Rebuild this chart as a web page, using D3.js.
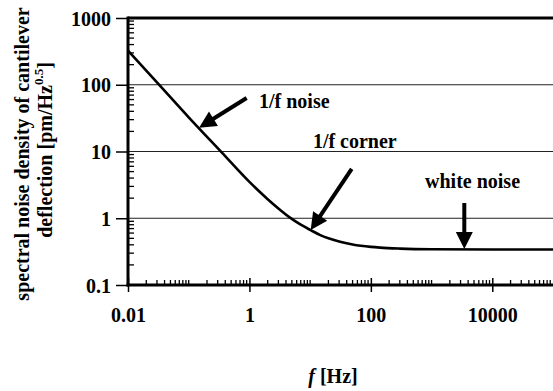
<!DOCTYPE html>
<html>
<head>
<meta charset="utf-8">
<script src="https://cdn.jsdelivr.net/npm/d3@7"></script>
<style>
  html, body { margin: 0; padding: 0; background: #fff; }
  svg { display: block; }
  text { font-family: "Liberation Serif", "Times New Roman", serif; font-weight: bold; fill: #000; }
</style>
</head>
<body>
<script>
// Noise spectrum of the cantilever deflection: frequency [Hz] and amplitude [pm/Hz^0.5]
const freq    = [0.01, 0.0316, 0.1, 0.349, 1, 1.5, 2, 3, 4.66, 7, 10, 15, 20, 30, 50, 100, 142, 300, 1000, 10000, 100000];
const density = [325, 103, 32.5, 9.7, 3.5, 2.45, 1.93, 1.4, 1.02, 0.8, 0.67, 0.555, 0.5, 0.447, 0.404, 0.372, 0.3625, 0.351, 0.343, 0.34, 0.34];

// axis ticks
const xTickLabels = [0.01, 1, 100, 10000];
const yTickLabels = [0.1, 1, 10, 100, 1000];
const gridValues  = [1, 10, 100];

// annotations: label position and arrow (from -> to), in data units
const notes = [
  { text: "1/f noise",   tx: 1.44, ty: 44.9, from: [0.90, 63.2], to: [0.148, 22.7] },
  { text: "1/f corner",  tx: 11.1, ty: 11.3, from: [48.4, 5.47], to: [10.2, 0.667] },
  { text: "white noise", tx: 780,  ty: 2.84, from: [3460, 1.69], to: [3460, 0.346] }
];

const W = 553, H = 391;
const plotL = 128, plotR = 553, plotT = 18, plotB = 285;

const svg = d3.select("body").append("svg").attr("width", W).attr("height", H);

const x = d3.scaleLog().domain([0.01, 100000]).range([plotL, plotR]);
const y = d3.scaleLog().domain([0.1, 1000]).range([plotB, plotT]);

// gridlines
svg.append("g").selectAll("line").data(gridValues).join("line")
  .attr("x1", plotL).attr("x2", plotR)
  .attr("y1", d => y(d)).attr("y2", d => y(d))
  .attr("stroke", "#222").attr("stroke-width", 1);

// top frame line
svg.append("line").attr("x1", plotL).attr("x2", plotR).attr("y1", plotT).attr("y2", plotT)
  .attr("stroke", "#000").attr("stroke-width", 3);

// minor ticks
function minors(lo, hi) {
  const out = [];
  for (let e = Math.round(Math.log10(lo)); e < Math.round(Math.log10(hi)); e++) {
    for (let m = 1; m <= 9; m++) {
      const v = m * Math.pow(10, e);
      if (v > lo * 1.0001 && v < hi * 0.9999) out.push(v);
    }
  }
  return out;
}
const isLabelled = (list, v) => list.some(t => Math.abs(t - v) / t < 1e-6);
const xMinor = minors(0.01, 100000).filter(v => !isLabelled(xTickLabels, v));
const yMinor = minors(0.1, 1000).filter(v => !isLabelled(yTickLabels, v));

svg.append("g").selectAll("line").data(xMinor).join("line")
  .attr("x1", d => x(d)).attr("x2", d => x(d))
  .attr("y1", plotB).attr("y2", plotB - 5)
  .attr("stroke", "#000").attr("stroke-width", 1.3);

svg.append("g").selectAll("line").data(yMinor).join("line")
  .attr("x1", plotL).attr("x2", plotL + 6)
  .attr("y1", d => y(d)).attr("y2", d => y(d))
  .attr("stroke", "#000").attr("stroke-width", 1.3);

// x axis
const xAxis = d3.axisBottom(x).tickValues(xTickLabels).tickSize(7)
  .tickFormat(d => d3.format("~g")(d)).tickPadding(18);
const gx = svg.append("g").attr("transform", `translate(0,${plotB})`).call(xAxis);
gx.select(".domain").remove();
gx.selectAll(".tick line").attr("y1", -7).attr("stroke-width", 1.5);
gx.selectAll(".tick text").attr("font-size", 20).attr("font-family", null).attr("dy", "0.62em");

// y axis
const yAxis = d3.axisLeft(y).tickValues(yTickLabels).tickSize(12)
  .tickFormat(d => d3.format("~g")(d)).tickPadding(5);
const gy = svg.append("g").attr("transform", `translate(${plotL},0)`).call(yAxis);
gy.select(".domain").remove();
gy.selectAll(".tick line").attr("stroke-width", 1.5);
gy.selectAll(".tick text").attr("font-size", 20).attr("font-family", null).attr("dy", "0.36em");

// axis lines
svg.append("line").attr("x1", plotL).attr("x2", plotL).attr("y1", plotT - 1.5).attr("y2", plotB + 1.5)
  .attr("stroke", "#000").attr("stroke-width", 3);
svg.append("line").attr("x1", plotL - 1.5).attr("x2", plotR).attr("y1", plotB).attr("y2", plotB)
  .attr("stroke", "#000").attr("stroke-width", 3);

// spectrum curve
const line = d3.line().x((d, i) => x(freq[i])).y(d => y(d)).curve(d3.curveMonotoneX);
svg.append("path").datum(density)
  .attr("d", line)
  .attr("fill", "none").attr("stroke", "#000").attr("stroke-width", 2.6);

// annotations
const ann = svg.append("g");
notes.forEach(n => {
  ann.append("text").attr("x", x(n.tx)).attr("y", y(n.ty)).attr("font-size", 20).text(n.text);
  const x1 = x(n.from[0]), y1 = y(n.from[1]), x2 = x(n.to[0]), y2 = y(n.to[1]);
  const dx = x2 - x1, dy = y2 - y1, len = Math.hypot(dx, dy);
  const ux = dx / len, uy = dy / len, hl = 17, hw = 8.5;
  const bx = x2 - ux * hl, by = y2 - uy * hl;
  ann.append("line").attr("x1", x1).attr("y1", y1).attr("x2", bx + ux * 2).attr("y2", by + uy * 2)
    .attr("stroke", "#000").attr("stroke-width", 4);
  ann.append("path")
    .attr("d", `M${x2},${y2}L${bx - uy * hw},${by + ux * hw}L${bx + uy * hw},${by - ux * hw}Z`)
    .attr("fill", "#000");
});

// y axis title
const yt = svg.append("text").attr("transform", "rotate(-90)").attr("font-size", 20).attr("text-anchor", "middle");
yt.append("tspan").attr("x", -154).attr("y", 29).text("spectral noise density of cantilever");
const l2 = yt.append("tspan").attr("x", -150).attr("y", 52);
l2.append("tspan").text("deflection [pm/Hz");
l2.append("tspan").attr("font-size", 13).attr("dy", -9).text("0.5");
l2.append("tspan").attr("dy", 9).text("]");

// x axis title
const xt = svg.append("text").attr("x", 333).attr("y", 383).attr("font-size", 20).attr("text-anchor", "middle");
xt.append("tspan").attr("font-style", "italic").text("f");
xt.append("tspan").text(" [Hz]");
</script>
</body>
</html>
